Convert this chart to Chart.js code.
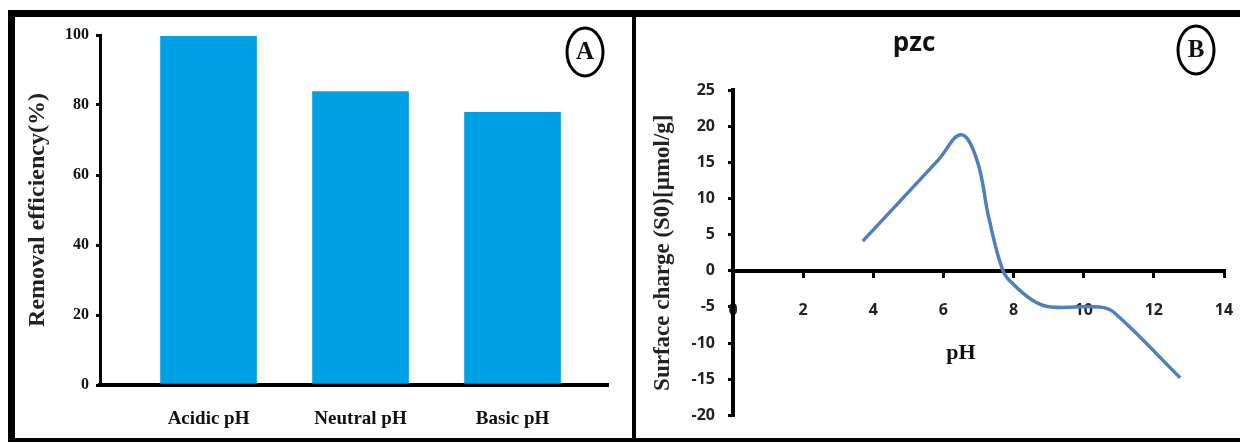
<!DOCTYPE html>
<html>
<head>
<meta charset="utf-8">
<script src="https://cdn.jsdelivr.net/npm/chart.js@4.4.1/dist/chart.umd.min.js"></script>
<style>
  html, body { margin: 0; padding: 0; background: #fff; }
  body { width: 1240px; height: 442px; position: relative; overflow: hidden; }
  .frame { position: absolute; background: #000; }
  .panel { position: absolute; }
</style>
</head>
<body>
<div class="frame" style="left:8px;top:10px;width:1232px;height:7px"></div>
<div class="frame" style="left:8px;top:10px;width:7px;height:432px"></div>
<div class="frame" style="left:632px;top:17px;width:4px;height:425px"></div>
<div class="frame" style="left:8px;top:438px;width:1232px;height:4px"></div>
<div class="panel" style="left:15px;top:17px;width:617px;height:421px"><canvas id="chartA"></canvas></div>
<div class="panel" style="left:636px;top:17px;width:604px;height:421px"><canvas id="chartB"></canvas></div>
<script>
// Panel A - removal efficiency by pH condition
const categories = ['Acidic pH', 'Neutral pH', 'Basic pH'];
const removalEfficiency = [99.6, 83.8, 77.9];
const removalTicks = [0, 20, 40, 60, 80, 100];

// Panel B - point of zero charge curve
const phValues = [3.7, 5.85, 6.5, 6.95, 7.3, 7.7, 8.0, 8.55, 9.05, 10.45, 10.85, 12.75];
const surfaceCharge = [4.1, 15.3, 18.8, 15.4, 7.2, 0, -1.9, -4.1, -5.0, -5.0, -5.7, -14.8];
const phTicks = [0, 2, 4, 6, 8, 10, 12, 14];
const chargeTicks = [-20, -15, -10, -5, 0, 5, 10, 15, 20, 25];

Chart.defaults.font.family = '"Liberation Serif", "Times New Roman", serif';
Chart.defaults.color = '#111';

const serifBold = (size) => ({ family: '"Liberation Serif", serif', size: size, weight: 'bold' });
const sansBold = (size) => ({ family: '"Open Sans", sans-serif', size: size, weight: 'bold' });

// draws the circled panel letters and free text labels
const overlayPlugin = {
  id: 'overlay',
  afterDraw(chart, args, opts) {
    const ctx = chart.ctx;
    ctx.save();
    ctx.textAlign = 'center';
    ctx.textBaseline = 'middle';
    (opts.rings || []).forEach(r => {
      ctx.beginPath();
      ctx.ellipse(r.x, r.y, r.rx, r.ry, 0, 0, Math.PI * 2);
      ctx.lineWidth = 3;
      ctx.strokeStyle = '#000';
      ctx.stroke();
      ctx.font = 'bold 25px "Liberation Serif"';
      ctx.fillStyle = '#111';
      ctx.fillText(r.label, r.x, r.y + 1);
    });
    (opts.texts || []).forEach(t => {
      ctx.font = t.font;
      ctx.fillStyle = '#111';
      ctx.fillText(t.text, t.x, t.y);
    });
    ctx.restore();
  }
};

new Chart(document.getElementById('chartA'), {
  type: 'bar',
  data: {
    datasets: [{
      data: categories.map((c, i) => ({ x: i + 1, y: removalEfficiency[i] })),
      backgroundColor: '#00A0E4',
      borderWidth: 0,
      barThickness: 96
    }]
  },
  options: {
    responsive: true,
    maintainAspectRatio: false,
    animation: false,
    events: [],
    layout: { padding: { top: 18, right: 24, left: 0, bottom: 0 } },
    plugins: {
      legend: { display: false },
      tooltip: { enabled: false },
      overlay: { rings: [{ label: 'A', x: 570, y: 35, rx: 18, ry: 24 }] }
    },
    scales: {
      x: {
        type: 'linear',
        offset: false,
        bounds: 'data',
        min: 0.286,
        max: 3.628,
        afterBuildTicks: (s) => { s.ticks = categories.map((c, i) => ({ value: i + 1 })); },
        afterFit: (s) => { s.height = 53; },
        grid: { display: false, drawTicks: false, offset: false },
        border: { display: true, color: '#000', width: 4 },
        ticks: {
          autoSkip: false,
          maxRotation: 0,
          padding: 23,
          font: serifBold(19),
          color: '#111',
          callback: (v) => categories[v - 1]
        }
      },
      y: {
        min: 0,
        max: 100,
        afterBuildTicks: (s) => { s.ticks = removalTicks.map(v => ({ value: v })); },
        afterFit: (s) => { s.width = 85; },
        grid: { display: true, drawOnChartArea: false, drawTicks: true, tickLength: 4, color: '#000', lineWidth: 3 },
        border: { display: true, color: '#000', width: 3 },
        ticks: { padding: 7, font: serifBold(16), color: '#111' },
        title: {
          display: true,
          text: 'Removal efficiency(%)',
          font: serifBold(24),
          color: '#222',
          padding: { top: 8, bottom: 0 }
        }
      }
    }
  },
  plugins: [overlayPlugin]
});

new Chart(document.getElementById('chartB'), {
  type: 'line',
  data: {
    datasets: [{
      data: phValues.map((p, i) => ({ x: p, y: surfaceCharge[i] })),
      borderColor: '#4F7FBC',
      borderWidth: 3.5,
      pointRadius: 0,
      tension: 0.4,
      fill: false
    }]
  },
  options: {
    responsive: true,
    maintainAspectRatio: false,
    animation: false,
    events: [],
    layout: { padding: { top: 73, right: 16, left: 0, bottom: 18 } },
    plugins: {
      legend: { display: false },
      tooltip: { enabled: false },
      overlay: {
        rings: [{ label: 'B', x: 560, y: 33, rx: 18, ry: 24 }],
        texts: [
          { text: 'pzc', x: 278, y: 27, font: 'bold 26px "Open Sans"' },
          { text: 'pH', x: 325, y: 336, font: 'bold 22px "Liberation Serif"' }
        ]
      }
    },
    scales: {
      x: {
        type: 'linear',
        position: { y: 0 },
        min: 0,
        max: 14,
        afterBuildTicks: (s) => { s.ticks = phTicks.map(v => ({ value: v })); },
        afterFit: (s) => { s.paddingLeft = 0; s.paddingRight = 0; },
        grid: { display: true, drawOnChartArea: false, drawTicks: true, tickLength: 5, color: '#000', lineWidth: 3 },
        border: { display: true, color: '#000', width: 4 },
        ticks: { padding: 25, font: sansBold(16), color: '#222' }
      },
      y: {
        min: -20,
        max: 25,
        afterBuildTicks: (s) => { s.ticks = chargeTicks.map(v => ({ value: v })); },
        afterFit: (s) => { s.width = 97; },
        grid: { display: true, drawOnChartArea: false, drawTicks: true, tickLength: 5, color: '#000', lineWidth: 3 },
        border: { display: true, color: '#000', width: 4 },
        ticks: { padding: 13, font: sansBold(16), color: '#222' },
        title: {
          display: true,
          text: 'Surface charge (S0)[µmol/g]',
          font: serifBold(23),
          color: '#222',
          padding: { top: 13, bottom: 0 }
        }
      }
    }
  },
  plugins: [overlayPlugin]
});
</script>
</body>
</html>
